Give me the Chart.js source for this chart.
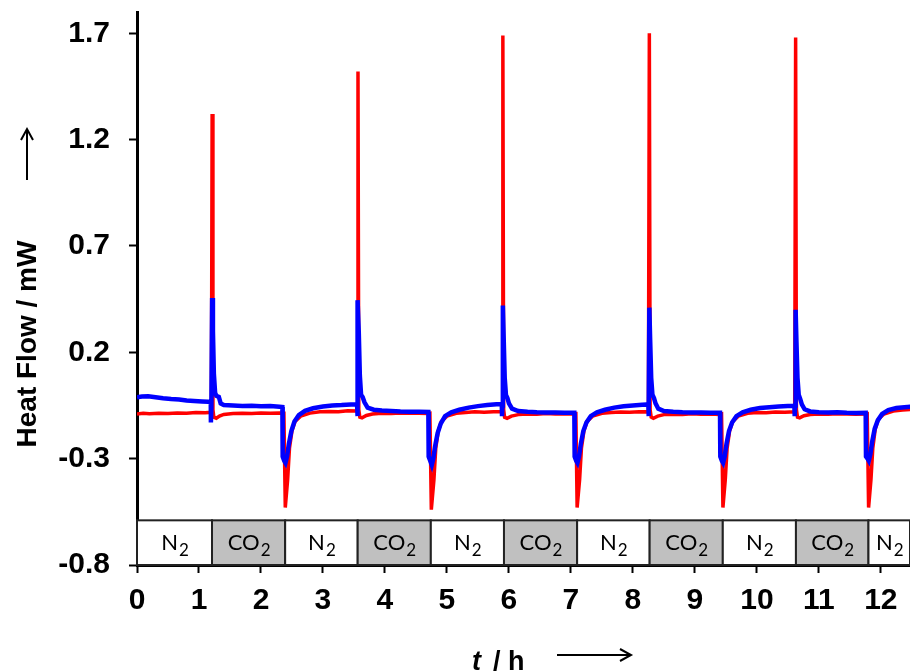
<!DOCTYPE html>
<html>
<head>
<meta charset="utf-8">
<script src="https://cdn.jsdelivr.net/npm/chart.js"></script>
<style>
  body { margin: 0; background: #fff; }
  #wrap { width: 910px; height: 672px; }
</style>
</head>
<body>
<div id="wrap"><canvas id="heatChart"></canvas></div>
<script>
// Heat flow traces (t in h, heat flow in mW)
const redTime = [
  0.00, 0.10, 0.20, 0.35, 0.50, 0.65, 0.80, 0.95, 1.10, 1.20,
  1.212, 1.225, 1.24, 1.28, 1.33, 1.40, 1.55, 1.70, 1.85, 2.00, 2.15, 2.30, 2.37,
  2.392, 2.43, 2.46, 2.50, 2.55, 2.64, 2.79, 2.95, 3.10, 3.25, 3.40, 3.55,
  3.565, 3.578, 3.595, 3.63, 3.70, 3.80, 3.95, 4.10, 4.25, 4.40, 4.55, 4.70, 4.725,
  4.748, 4.79, 4.82, 4.86, 4.91, 5.00, 5.15, 5.30, 5.45, 5.60, 5.75, 5.89,
  5.902, 5.915, 5.93, 5.97, 6.04, 6.15, 6.30, 6.45, 6.60, 6.75, 6.90, 7.05, 7.08,
  7.10, 7.14, 7.17, 7.21, 7.26, 7.35, 7.50, 7.65, 7.80, 7.95, 8.10, 8.25,
  8.265, 8.278, 8.295, 8.33, 8.40, 8.50, 8.65, 8.80, 8.95, 9.10, 9.25, 9.40, 9.43,
  9.452, 9.49, 9.52, 9.56, 9.61, 9.70, 9.85, 10.00, 10.15, 10.30, 10.45, 10.61,
  10.625, 10.638, 10.655, 10.69, 10.76, 10.86, 11.00, 11.15, 11.30, 11.45, 11.60, 11.75, 11.78,
  11.802, 11.84, 11.87, 11.91, 11.96, 12.05, 12.20, 12.35, 12.50
];
const redFlow = [
  -0.090, -0.087, -0.089, -0.086, -0.088, -0.085, -0.086, -0.083, -0.084, -0.082,
  1.32, -0.07, -0.105, -0.110, -0.100, -0.092, -0.088, -0.086, -0.088, -0.085, -0.087, -0.085, -0.086,
  -0.53, -0.40, -0.25, -0.17, -0.125, -0.100, -0.086, -0.080, -0.078, -0.079, -0.075, -0.076,
  1.52, -0.07, -0.105, -0.108, -0.097, -0.090, -0.087, -0.088, -0.085, -0.087, -0.086, -0.088, -0.087,
  -0.54, -0.40, -0.25, -0.17, -0.125, -0.100, -0.087, -0.083, -0.080, -0.082, -0.079, -0.080,
  1.69, -0.07, -0.105, -0.110, -0.100, -0.093, -0.090, -0.091, -0.088, -0.090, -0.089, -0.090, -0.089,
  -0.53, -0.40, -0.25, -0.17, -0.125, -0.100, -0.087, -0.083, -0.081, -0.082, -0.079, -0.080,
  1.70, -0.07, -0.105, -0.110, -0.100, -0.093, -0.091, -0.092, -0.089, -0.091, -0.090, -0.092, -0.090,
  -0.53, -0.40, -0.25, -0.17, -0.125, -0.100, -0.087, -0.083, -0.084, -0.081, -0.082, -0.080,
  1.68, -0.07, -0.105, -0.108, -0.098, -0.092, -0.090, -0.091, -0.089, -0.090, -0.091, -0.090, -0.089,
  -0.53, -0.40, -0.25, -0.16, -0.115, -0.090, -0.076, -0.071, -0.068
];

const blueTime = [
  0.00, 0.08, 0.18, 0.30, 0.42, 0.55, 0.68, 0.80, 0.92, 1.05, 1.15, 1.19,
  1.192, 1.200, 1.212, 1.225, 1.24, 1.26, 1.28, 1.32, 1.35, 1.40, 1.55, 1.70, 1.85, 2.00, 2.15, 2.30, 2.345,
  2.35, 2.375, 2.395, 2.42, 2.45, 2.49, 2.54, 2.61, 2.71, 2.84, 3.00, 3.15, 3.30, 3.45, 3.55,
  3.552, 3.558, 3.565, 3.578, 3.595, 3.615, 3.64, 3.67, 3.72, 3.82, 3.95, 4.10, 4.25, 4.40, 4.55, 4.70,
  4.705, 4.73, 4.755, 4.78, 4.81, 4.85, 4.90, 4.97, 5.07, 5.20, 5.35, 5.50, 5.65, 5.80, 5.885,
  5.888, 5.895, 5.902, 5.915, 5.932, 5.952, 5.975, 6.00, 6.05, 6.15, 6.30, 6.45, 6.60, 6.75, 6.90, 7.055,
  7.06, 7.085, 7.105, 7.13, 7.16, 7.20, 7.25, 7.32, 7.42, 7.55, 7.70, 7.85, 8.00, 8.15, 8.25,
  8.252, 8.258, 8.265, 8.278, 8.295, 8.315, 8.34, 8.365, 8.41, 8.50, 8.65, 8.80, 8.95, 9.10, 9.25, 9.405,
  9.41, 9.435, 9.455, 9.48, 9.51, 9.55, 9.60, 9.67, 9.77, 9.90, 10.05, 10.20, 10.35, 10.50, 10.605,
  10.610, 10.617, 10.625, 10.638, 10.655, 10.675, 10.70, 10.725, 10.77, 10.86, 11.00, 11.15, 11.30, 11.45, 11.60, 11.755,
  11.76, 11.785, 11.805, 11.83, 11.86, 11.90, 11.95, 12.02, 12.12, 12.25, 12.38, 12.50
];
const blueFlow = [
  -0.012, -0.008, -0.007, -0.011, -0.016, -0.020, -0.022, -0.027, -0.029, -0.031, -0.033, -0.034,
  -0.13, -0.06, 0.455, 0.30, 0.10, 0.01, -0.005, -0.010, -0.040, -0.048, -0.050, -0.052, -0.051, -0.054, -0.053, -0.056, -0.057,
  -0.29, -0.31, -0.32, -0.29, -0.23, -0.17, -0.125, -0.095, -0.075, -0.063, -0.055, -0.050, -0.048, -0.045, -0.044,
  -0.10, -0.05, 0.445, 0.29, 0.09, 0.00, -0.010, -0.035, -0.060, -0.070, -0.074, -0.076, -0.078, -0.079, -0.080, -0.081,
  -0.29, -0.31, -0.33, -0.30, -0.24, -0.18, -0.135, -0.100, -0.082, -0.070, -0.060, -0.053, -0.048, -0.044, -0.043,
  -0.10, -0.05, 0.42, 0.27, 0.08, 0.00, -0.015, -0.040, -0.065, -0.076, -0.080, -0.082, -0.083, -0.083, -0.084, -0.084,
  -0.29, -0.31, -0.32, -0.29, -0.23, -0.17, -0.130, -0.100, -0.082, -0.070, -0.060, -0.054, -0.050, -0.047, -0.045,
  -0.10, -0.05, 0.41, 0.26, 0.08, 0.00, -0.015, -0.040, -0.065, -0.076, -0.080, -0.082, -0.083, -0.083, -0.084, -0.084,
  -0.29, -0.31, -0.32, -0.29, -0.23, -0.17, -0.130, -0.100, -0.082, -0.070, -0.062, -0.058, -0.055, -0.053, -0.052,
  -0.10, -0.05, 0.40, 0.25, 0.08, 0.00, -0.020, -0.045, -0.068, -0.078, -0.082, -0.083, -0.082, -0.084, -0.085, -0.084,
  -0.29, -0.30, -0.31, -0.28, -0.22, -0.16, -0.120, -0.090, -0.072, -0.062, -0.058, -0.056
];

const xTicks = [0, 1, 2, 3, 4, 5, 6, 7, 8, 9, 10, 11, 12];
const yTicks = [-0.8, -0.3, 0.2, 0.7, 1.2, 1.7];

// gas switching: box edges (h) and the gas in each interval
const gasEdges = [0, 1.21, 2.39, 3.56, 4.74, 5.92, 7.10, 8.27, 9.45, 10.63, 11.80, 12.47];
const gasLabels = ['N2', 'CO2', 'N2', 'CO2', 'N2', 'CO2', 'N2', 'CO2', 'N2', 'CO2', 'N2'];
const gasBoxTop = -0.59;

const FONT = '"Liberation Sans", Arial, sans-serif';

function toPoints(xs, ys) {
    return xs.map((x, i) => ({ x: x, y: ys[i] }));
}

// draws the N2 / CO2 strip along the bottom of the plot
const gasStrip = {
    id: 'gasStrip',
    beforeDatasetsDraw(chart) {
        const ctx = chart.ctx;
        const xs = chart.scales.x, ys = chart.scales.y;
        const top = ys.getPixelForValue(gasBoxTop);
        const bottom = ys.getPixelForValue(-0.8);
        ctx.save();
        for (let i = 0; i < gasLabels.length; i++) {
            const x0 = xs.getPixelForValue(gasEdges[i]);
            const x1 = xs.getPixelForValue(gasEdges[i + 1]);
            const isCO2 = gasLabels[i].startsWith('CO');
            ctx.fillStyle = isCO2 ? '#c0c0c0' : '#ffffff';
            ctx.fillRect(x0, top, x1 - x0, bottom - top);
            ctx.strokeStyle = '#222';
            ctx.lineWidth = 2;
            ctx.strokeRect(x0, top, x1 - x0, bottom - top);

            // label with subscript digit
            const main = gasLabels[i].slice(0, -1);
            const sub = gasLabels[i].slice(-1);
            ctx.fillStyle = '#000';
            ctx.textBaseline = 'alphabetic';
            ctx.font = '22px Lato, ' + FONT;
            const wMain = ctx.measureText(main).width;
            ctx.font = '17px Lato, ' + FONT;
            const wSub = ctx.measureText(sub).width;
            const cx = (x0 + x1) / 2;
            const base = (top + bottom) / 2 + 7;
            const start = cx - (wMain + wSub) / 2;
            ctx.font = '22px Lato, ' + FONT;
            ctx.fillText(main, start, base);
            ctx.font = '17px Lato, ' + FONT;
            ctx.fillText(sub, start + wMain + 1, base + 6);
        }
        ctx.restore();
    }
};

// axis titles with their arrows
const axisTitles = {
    id: 'axisTitles',
    afterDraw(chart) {
        const ctx = chart.ctx;
        ctx.save();
        ctx.fillStyle = '#000';
        ctx.strokeStyle = '#000';
        ctx.lineWidth = 2;

        // y title, rotated
        ctx.save();
        ctx.translate(27, 344);
        ctx.rotate(-Math.PI / 2);
        ctx.font = 'bold 28px ' + FONT;
        ctx.textAlign = 'center';
        ctx.textBaseline = 'middle';
        ctx.fillText('Heat Flow / mW', 0, 1);
        ctx.restore();
        ctx.beginPath();
        ctx.moveTo(27, 180); ctx.lineTo(27, 129);
        ctx.moveTo(21, 140); ctx.lineTo(27, 129); ctx.lineTo(33, 140);
        ctx.stroke();

        // x title
        ctx.textAlign = 'left';
        ctx.textBaseline = 'alphabetic';
        ctx.font = 'italic bold 27px ' + FONT;
        ctx.fillText('t', 472, 670);
        ctx.font = 'bold 27px ' + FONT;
        ctx.fillText('/ h', 493, 670);
        ctx.beginPath();
        ctx.moveTo(557, 655); ctx.lineTo(631, 655);
        ctx.moveTo(620, 649); ctx.lineTo(631, 655); ctx.lineTo(620, 661);
        ctx.stroke();
        ctx.restore();
    }
};

const ctx = document.getElementById('heatChart').getContext('2d');
new Chart(ctx, {
    type: 'line',
    data: {
        datasets: [
            {
                label: 'blue',
                data: toPoints(blueTime, blueFlow),
                borderColor: '#0000ff',
                borderWidth: 4.5,
                pointRadius: 0,
                tension: 0,
                order: 1
            },
            {
                label: 'red',
                data: toPoints(redTime, redFlow),
                borderColor: '#ff0000',
                borderWidth: 3.5,
                pointRadius: 0,
                tension: 0,
                order: 2
            }
        ]
    },
    options: {
        responsive: true,
        maintainAspectRatio: false,
        animation: false,
        layout: { padding: { top: 12, right: 0, left: 0, bottom: 0 } },
        plugins: {
            legend: { display: false },
            tooltip: { enabled: false }
        },
        scales: {
            x: {
                type: 'linear',
                min: 0,
                max: 12.47,
                afterBuildTicks: (scale) => { scale.ticks = xTicks.map(v => ({ value: v })); },
                afterFit: (scale) => { scale.height = 107; scale.paddingLeft = 0; scale.paddingRight = 0; },
                border: { display: true, color: '#000', width: 3 },
                grid: { drawOnChartArea: false, drawTicks: true, tickLength: 8, tickWidth: 2, tickColor: '#000' },
                ticks: {
                    color: '#000',
                    padding: 10,
                    maxRotation: 0,
                    font: { family: FONT, size: 30, weight: 'bold' },
                    callback: (v) => String(v)
                }
            },
            y: {
                type: 'linear',
                min: -0.8,
                max: 1.8,
                afterBuildTicks: (scale) => { scale.ticks = yTicks.map(v => ({ value: v })); },
                afterFit: (scale) => { scale.width = 137; scale.paddingTop = 0; scale.paddingBottom = 0; },
                border: { display: true, color: '#000', width: 3 },
                grid: { drawOnChartArea: false, drawTicks: true, tickLength: 8, tickWidth: 2, tickColor: '#000' },
                ticks: {
                    color: '#000',
                    padding: 19,
                    font: { family: FONT, size: 30, weight: 'bold' },
                    callback: (v) => v.toFixed(1)
                }
            }
        }
    },
    plugins: [gasStrip, axisTitles]
});
</script>
</body>
</html>
